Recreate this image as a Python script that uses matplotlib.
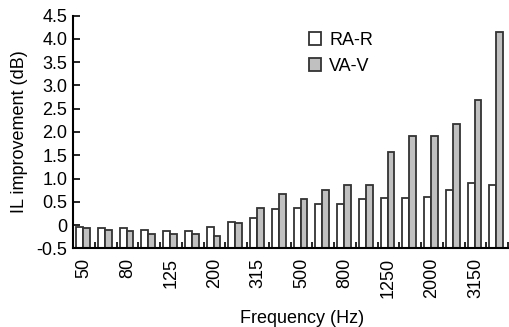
import matplotlib
matplotlib.use("Agg")
import matplotlib.pyplot as plt
import numpy as np
from matplotlib.ticker import FixedLocator, FixedFormatter

plt.rcParams['font.family'] = ['Liberation Sans', 'DejaVu Sans']
plt.rcParams['axes.unicode_minus'] = False

frequencies = ["50", "63", "80", "100", "125", "160", "200", "250", "315", "400",
               "500", "630", "800", "1000", "1250", "1600", "2000", "2500", "3150", "4000"]
ra_r = [-0.04, -0.07, -0.07, -0.10, -0.12, -0.12, -0.05, 0.07, 0.15, 0.35,
        0.37, 0.45, 0.45, 0.55, 0.58, 0.58, 0.61, 0.76, 0.91, 0.85]
va_v = [-0.07, -0.10, -0.12, -0.20, -0.20, -0.20, -0.24, 0.04, 0.36, 0.67,
        0.55, 0.76, 0.85, 0.85, 1.56, 1.91, 1.91, 2.18, 2.69, 4.15]
yticks = [-0.5, 0, 0.5, 1.0, 1.5, 2.0, 2.5, 3.0, 3.5, 4.0, 4.5]
ytick_labels = ["-0.5", "0", "0.5", "1.0", "1.5", "2.0", "2.5", "3.0", "3.5", "4.0", "4.5"]
baseline = -0.5

fig = plt.figure(figsize=(5.09, 3.27), dpi=100)
ax = fig.add_axes([73/509, 1-248.3/327, 435/509, (248.3-15.7)/327])

x = np.arange(len(frequencies))
w = 0.32
edge = '#333333'
ax.bar(x - w/2 - 0.04, np.array(ra_r) - baseline, w, bottom=baseline,
       color='white', edgecolor=edge, linewidth=1.3, label='RA-R')
ax.bar(x + w/2 - 0.04, np.array(va_v) - baseline, w, bottom=baseline,
       color='#c0c0c0', edgecolor=edge, linewidth=1.3, label='VA-V')

ax.set_xlim(-0.5, len(frequencies) - 0.5)
ax.set_ylim(-0.5, 4.5)

for s in ['top', 'right']:
    ax.spines[s].set_visible(False)
for s in ['left', 'bottom']:
    ax.spines[s].set_linewidth(1.5)
    ax.spines[s].set_color('black')
    ax.spines[s].set_zorder(5)

ax.yaxis.set_major_locator(FixedLocator(yticks))
ax.yaxis.set_major_formatter(FixedFormatter(ytick_labels))
ax.tick_params(axis='y', direction='in', length=5, width=1.2, labelsize=13, pad=4)

ax.set_xticks(x[::2])
ax.set_xticklabels(frequencies[::2], rotation=90)
ax.tick_params(axis='x', which='major', length=0, labelsize=13, pad=7)
ax.set_xticks(np.arange(len(frequencies) + 1) - 0.5, minor=True)
ax.tick_params(axis='x', which='minor', direction='in', length=4, width=1.2)

ax.set_ylabel("IL improvement (dB)", fontsize=13)
ax.yaxis.set_label_coords(-0.103, 0.5)
ax.set_xlabel("Frequency (Hz)", fontsize=13)
ax.xaxis.set_label_coords(0.526, -0.265)

leg = ax.legend(loc='upper left', bbox_to_anchor=(309/509, 1-32/327),
                bbox_transform=fig.transFigure, frameon=False, fontsize=13,
                handlelength=0.68, handleheight=0.68, handletextpad=0.45,
                labelspacing=0.5, borderpad=0, borderaxespad=0)

fig.savefig("out.png", dpi=100)
